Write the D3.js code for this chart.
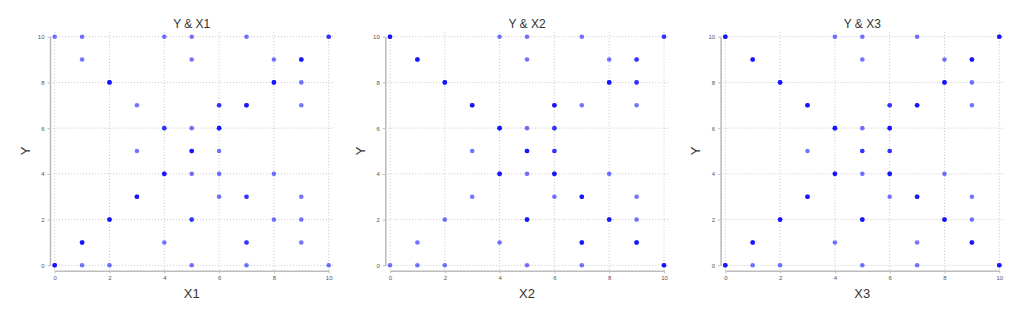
<!DOCTYPE html>
<html><head><meta charset="utf-8">
<script src="https://cdn.jsdelivr.net/npm/d3@7"></script>
<style>
html,body{margin:0;padding:0;background:#fff;}
svg{display:block;font-family:"Liberation Sans",Arial,sans-serif;}
</style></head>
<body><svg id="c" width="1023" height="320"></svg>
<script>
// Data: cells (x, y) with overlap count n (number of coincident observations)
const ticks = [0, 2, 4, 6, 8, 10];
const titles = ["Y & X1", "Y & X2", "Y & X3"];
const xLabels = ["X1", "X2", "X3"];

const X1 = [0,1,4,5,7,10, 1,5,8,9, 2,8,9, 3,6,7,9, 4,5,6, 3,5,6, 4,5,6,8, 3,6,7,9, 2,5,8,9, 1,4,7,9, 0,1,2,5,7,10];
const Y1 = [10,10,10,10,10,10, 9,9,9,9, 8,8,8, 7,7,7,7, 6,6,6, 5,5,5, 4,4,4,4, 3,3,3,3, 2,2,2,2, 1,1,1,1, 0,0,0,0,0,0];
const N1 = [1,1,1,1,1,2, 1,1,1,3, 3,3,1, 1,2,3,1, 2,1,3, 1,3,1, 3,1,1,1, 3,1,2,1, 3,2,1,1, 3,1,2,1, 3,1,1,1,1,1];

const X2 = [0,4,5,7,10, 1,5,8,9, 2,8,9, 3,6,7,9, 4,5,6, 3,5,6, 4,5,6,8, 3,6,7,9, 2,5,8,9, 1,4,7,9, 0,1,2,5,7,10];
const Y2 = [10,10,10,10,10, 9,9,9,9, 8,8,8, 7,7,7,7, 6,6,6, 5,5,5, 4,4,4,4, 3,3,3,3, 2,2,2,2, 1,1,1,1, 0,0,0,0,0,0];
const N2 = [3,1,1,1,2, 3,1,1,2, 3,3,2, 3,3,1,1, 3,1,2, 1,3,2, 3,1,3,1, 1,1,3,1, 1,3,3,1, 1,1,3,3, 1,1,1,1,1,3];

const X3 = [0,4,5,7,10, 1,5,8,9, 2,8,9, 3,6,7,9, 4,5,6, 3,5,6, 4,5,6,8, 3,6,7,9, 2,5,8,9, 1,4,7,9, 0,1,2,5,7,10];
const Y3 = [10,10,10,10,10, 9,9,9,9, 8,8,8, 7,7,7,7, 6,6,6, 5,5,5, 4,4,4,4, 3,3,3,3, 2,2,2,2, 1,1,1,1, 0,0,0,0,0,0];
const N3 = [3,1,1,1,3, 3,1,1,3, 3,3,1, 3,2,3,1, 3,1,3, 1,2,2, 3,1,3,1, 3,1,3,1, 3,3,3,1, 3,1,1,3, 3,1,1,1,1,3];

const panels = [[X1,Y1,N1],[X2,Y2,N2],[X3,Y3,N3]];

const svg = d3.select("#c");
const pad = 4.8;

panels.forEach(([xs, ys, ns], i) => {
  const x0 = 54.7 + i * 335.3;
  const x = d3.scaleLinear().domain([0, 10]).range([x0, x0 + 274]);
  const y = d3.scaleLinear().domain([0, 10]).range([265.3, 36.7]);
  const g = svg.append("g");

  // grid
  g.selectAll(".vg").data(ticks).join("line")
    .attr("x1", d => x(d)).attr("x2", d => x(d))
    .attr("y1", y(10) - pad).attr("y2", y(0) + pad)
    .attr("stroke", "#c8c8c8").attr("stroke-width", 1).attr("stroke-dasharray", "1,2");
  g.selectAll(".hg").data(ticks).join("line")
    .attr("x1", x(0) - pad).attr("x2", x(10) + pad)
    .attr("y1", d => y(d)).attr("y2", d => y(d))
    .attr("stroke", "#c8c8c8").attr("stroke-width", 1).attr("stroke-dasharray", "1,2");

  // axes
  const ax = g.append("g").attr("transform", `translate(0,${y(0) + 5.4})`)
    .call(d3.axisBottom(x).tickValues(ticks).tickSize(2.5).tickSizeOuter(0).tickPadding(3));
  const ay = g.append("g").attr("transform", `translate(${x(0) - 4.7},0)`)
    .call(d3.axisLeft(y).tickValues(ticks).tickSize(2.5).tickSizeOuter(0).tickPadding(3));
  [ax, ay].forEach(a => {
    a.select(".domain").attr("stroke", "#bdbdbd").attr("stroke-width", 1.6);
    a.selectAll(".tick line").attr("stroke", "#bdbdbd");
    a.selectAll(".tick text").attr("fill", "#555").attr("font-size", 6)
      .attr("font-family", "'Liberation Sans',Arial,sans-serif");
  });

  // points
  const pts = [];
  xs.forEach((xv, j) => { for (let k = 0; k < ns[j]; k++) pts.push([xv, ys[j]]); });
  g.selectAll("circle").data(pts).join("circle")
    .attr("cx", d => x(d[0])).attr("cy", d => y(d[1])).attr("r", 2.3)
    .attr("fill", "#0000ff").attr("fill-opacity", 0.55);

  // titles & labels
  const cx = (x(0) + x(10)) / 2;
  g.append("text").attr("x", cx).attr("y", 28.3).attr("text-anchor", "middle")
    .attr("font-size", 12).attr("fill", "#333").text(titles[i]);
  g.append("text").attr("x", cx).attr("y", 297.8).attr("text-anchor", "middle")
    .attr("font-size", 13).attr("fill", "#333").text(xLabels[i]);
  g.append("text").attr("transform", `translate(${x0 - 25},151) rotate(-90)`)
    .attr("text-anchor", "middle").attr("font-size", 13).attr("fill", "#333").text("Y");
});
</script></body></html>
